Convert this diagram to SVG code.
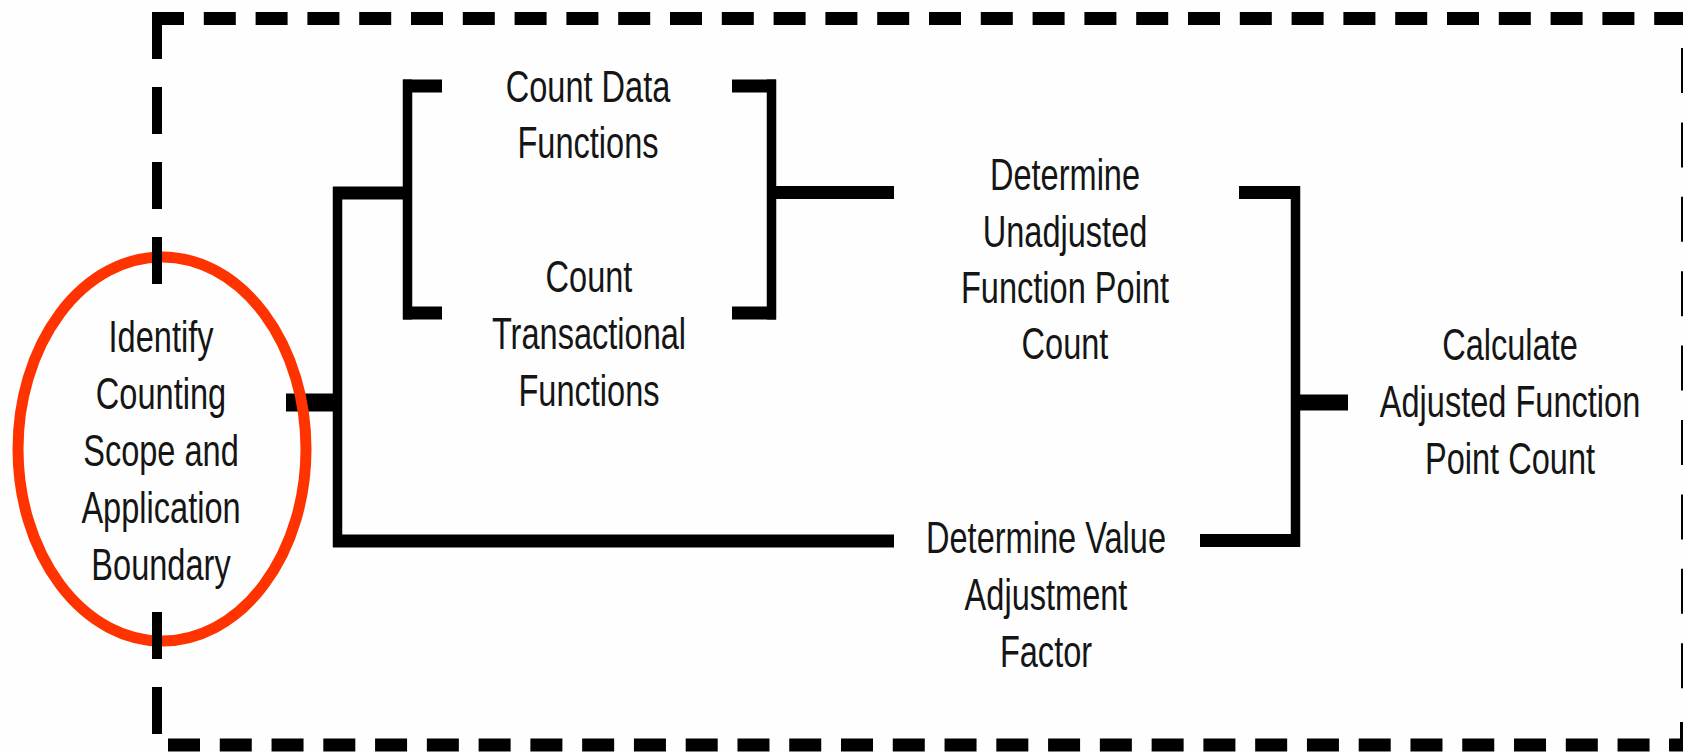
<svg xmlns="http://www.w3.org/2000/svg" width="1683" height="752" viewBox="0 0 1683 752">
<style>
.t{font-family:"Liberation Sans",Arial,sans-serif;font-size:44px;fill:#151515;text-anchor:middle}
.h{stroke:#000;stroke-width:13;fill:none}
.v{stroke:#000;stroke-width:9.5;fill:none}
.dh{stroke:#000;stroke-width:13;fill:none}
.dv{stroke:#000;stroke-width:10;fill:none}
</style>
<rect width="1683" height="752" fill="#fefefe"/>
<g id="connectors">
<line class="h" x1="286" y1="402.5" x2="338" y2="402.5" style="stroke-width:18"/>
<line class="v" x1="337.5" y1="187" x2="337.5" y2="547"/>
<line class="h" x1="333" y1="193" x2="412" y2="193"/>
<line class="h" x1="333" y1="541" x2="894" y2="541"/>
<line class="v" x1="407.5" y1="79.5" x2="407.5" y2="319.5"/>
<line class="h" x1="403" y1="86" x2="442" y2="86"/>
<line class="h" x1="403" y1="313" x2="442" y2="313"/>
<line class="v" x1="771.5" y1="79.5" x2="771.5" y2="319.5"/>
<line class="h" x1="732" y1="86" x2="776" y2="86"/>
<line class="h" x1="732" y1="313" x2="776" y2="313"/>
<line class="h" x1="767" y1="192.5" x2="894" y2="192.5"/>
<line class="v" x1="1295.5" y1="186" x2="1295.5" y2="547"/>
<line class="h" x1="1239" y1="192.5" x2="1300" y2="192.5"/>
<line class="h" x1="1200" y1="540.5" x2="1300" y2="540.5"/>
<line class="h" x1="1291" y1="402.5" x2="1348" y2="402.5" style="stroke-width:16"/>
</g>
<g id="identify">
<ellipse cx="162" cy="449" rx="144" ry="192" fill="none" stroke="#ff3300" stroke-width="11"/>
<g transform="translate(161,0) scale(0.74,1)">
<text class="t" x="0" y="352">Identify</text>
<text class="t" x="0" y="409">Counting</text>
<text class="t" x="0" y="466">Scope and</text>
<text class="t" x="0" y="523">Application</text>
<text class="t" x="0" y="580">Boundary</text>
</g>
</g>
<g id="boundary">
<line class="dh" x1="152" y1="18.5" x2="1683" y2="18.5" stroke-dasharray="32 19.8"/>
<line class="dv" x1="157" y1="12" x2="157" y2="286" stroke-dasharray="47 28"/>
<line class="dv" x1="157" y1="612" x2="157" y2="735" stroke-dasharray="47 28"/>
<line class="dh" x1="168" y1="745" x2="1683" y2="745" stroke-dasharray="32 19.77"/>
<line class="dv" x1="1686" y1="48" x2="1686" y2="700" stroke-dasharray="45 29.4"/>
<path d="M1669,745 H1686 V722" class="dh" style="stroke-width:12"/>
</g>
<g id="count-data" transform="translate(588,0) scale(0.74,1)">
<text class="t" x="0" y="102">Count Data</text>
<text class="t" x="0" y="158">Functions</text>
</g>
<g id="count-transactional" transform="translate(589,0) scale(0.74,1)">
<text class="t" x="0" y="292">Count</text>
<text class="t" x="0" y="349">Transactional</text>
<text class="t" x="0" y="406">Functions</text>
</g>
<g id="unadjusted" transform="translate(1065,0) scale(0.74,1)">
<text class="t" x="0" y="190">Determine</text>
<text class="t" x="0" y="247">Unadjusted</text>
<text class="t" x="0" y="303">Function Point</text>
<text class="t" x="0" y="359">Count</text>
</g>
<g id="value-adjustment" transform="translate(1046,0) scale(0.74,1)">
<text class="t" x="0" y="553">Determine Value</text>
<text class="t" x="0" y="610">Adjustment</text>
<text class="t" x="0" y="667">Factor</text>
</g>
<g id="adjusted" transform="translate(1510,0) scale(0.74,1)">
<text class="t" x="0" y="360">Calculate</text>
<text class="t" x="0" y="417">Adjusted Function</text>
<text class="t" x="0" y="474">Point Count</text>
</g>
</svg>
